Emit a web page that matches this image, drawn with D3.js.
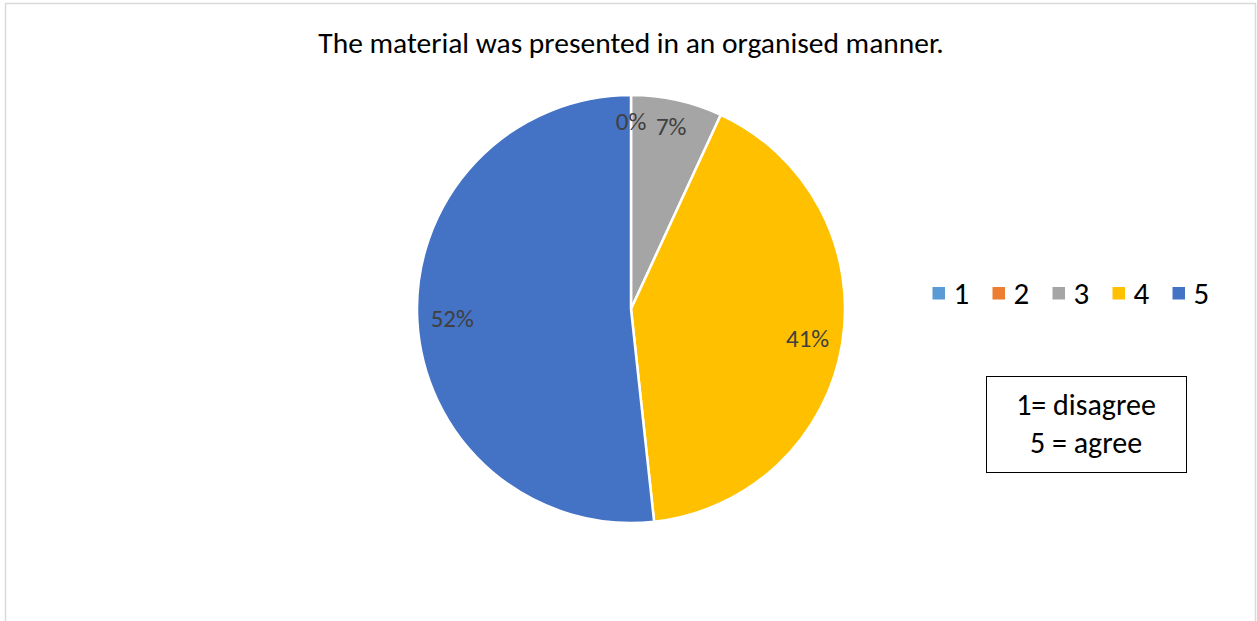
<!DOCTYPE html>
<html><head><meta charset="utf-8">
<script src="https://cdn.jsdelivr.net/npm/d3@7"></script>
<style>body{margin:0;background:#fff}svg{display:block}</style>
</head><body>
<svg id="c" width="1257" height="621"></svg>
<script>
const categories = ["1","2","3","4","5"];
const counts = [0, 0, 2, 12, 15];
const colors = ["#5B9BD5","#ED7D31","#A5A5A5","#FFC000","#4472C4"];
const title = "The material was presented in an organised manner.";
const noteLines = ["1= disagree","5 = agree"];
const font = "Carlito, Calibri, Lato, 'Open Sans', sans-serif";

const svg = d3.select("#c");
svg.append("rect").attr("x",5.5).attr("y",3.5).attr("width",1250).attr("height",640)
  .attr("fill","#fff").attr("stroke","#d9d9d9").attr("stroke-width",1.5);

svg.append("text").attr("x",631).attr("y",53).attr("text-anchor","middle")
  .attr("font-family",font).attr("font-size",29.5).attr("fill","#000").text(title);

const cx=631, cy=309, R=214;
const total = d3.sum(counts);
const pie = d3.pie().sort(null).value(d=>d)(counts);
const arc = d3.arc().innerRadius(0).outerRadius(R);
const g = svg.append("g").attr("transform",`translate(${cx},${cy})`);
g.selectAll("path").data(pie).enter().append("path")
  .attr("d",arc).attr("fill",(d,i)=>colors[i])
  .attr("stroke","#fff").attr("stroke-width",2.5).attr("stroke-linejoin","round");

const fmt = v => Math.round(v/total*100)+"%";
const labR = {2:187, 3:179, 4:179};
pie.forEach((d,i)=>{
  if(i===0) return;
  let a, r;
  if(i===1){ a=0; r=188; }
  else { a=(d.startAngle+d.endAngle)/2; r=labR[i]; }
  let x = r*Math.sin(a), y = -r*Math.cos(a);
  g.append("text").attr("x",x).attr("y",y).attr("dy","0.35em").attr("text-anchor","middle")
    .attr("font-family",font).attr("font-size",25).attr("fill","#404040").text(fmt(d.value));
});

const leg = svg.append("g");
categories.forEach((c,i)=>{
  const x = 932.5 + i*60;
  leg.append("rect").attr("x",x).attr("y",287).attr("width",12.5).attr("height",12.5).attr("fill",colors[i]);
  leg.append("text").attr("x",x+21).attr("y",304).attr("font-family",font).attr("font-size",31)
    .attr("fill","#000").text(c);
});

svg.append("rect").attr("x",986.5).attr("y",376.5).attr("width",200).attr("height",96)
  .attr("fill","#fff").attr("stroke","#000").attr("stroke-width",1);
noteLines.forEach((t,i)=>{
  svg.append("text").attr("x",1086).attr("y",415+i*38).attr("text-anchor","middle")
    .attr("font-family",font).attr("font-size",30).attr("fill","#000").text(t);
});
</script>
</body></html>
